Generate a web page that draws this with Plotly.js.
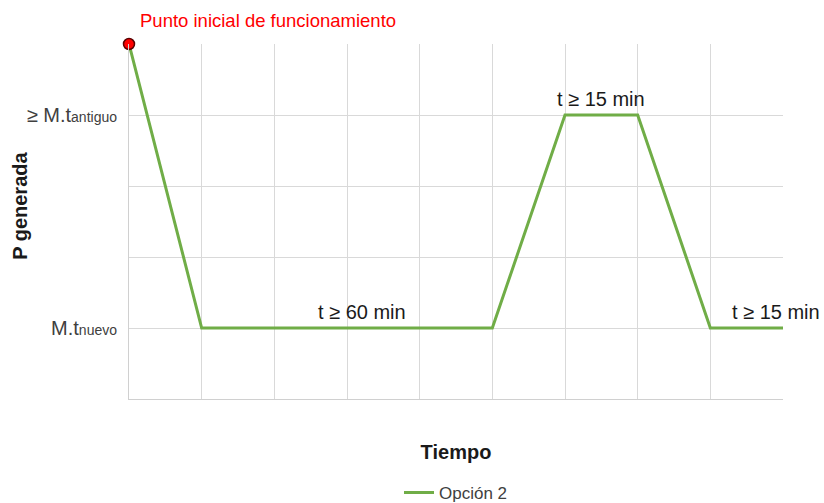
<!DOCTYPE html>
<html><head><meta charset="utf-8">
<script src="https://cdn.plot.ly/plotly-3.0.1.min.js"></script>
<style>body{margin:0;background:#fff}#c{width:824px;height:503px}</style>
</head><body><div id="c"></div>
<script>
const xs = [0, 1, 5, 6, 7, 8, 9];
const ys = [5, 1, 1, 4, 4, 1, 1];
const seriesName = 'Opción 2';
const startX = [0], startY = [5];
const yTickVals = [0, 1, 2, 3, 4, 5];
const yTickText = ['', 'M.t<span style="font-size:14px">nuevo</span>', '', '', '≥ M.t<span style="font-size:14px">antiguo</span>', ''];
const notes = [
  {x: 3.2, y: 1, text: 't ≥ 60 min'},
  {x: 6.5, y: 4, text: 't ≥ 15 min'},
  {x: 8.9, y: 1, text: 't ≥ 15 min'}
];
const font = 'Liberation Sans, Arial, sans-serif';
const data = [
  {x: xs, y: ys, type: 'scatter', mode: 'lines', name: seriesName,
   line: {color: '#70ad47', width: 3}},
  {x: startX, y: startY, type: 'scatter', mode: 'markers', showlegend: false,
   marker: {color: '#ff0000', size: 11, line: {color: '#5a0000', width: 1.5}}, cliponaxis: false}
];
const annotations = notes.map(n => ({x: n.x, y: n.y, xref: 'x', yref: 'y', text: n.text,
  showarrow: false, yanchor: 'bottom', yshift: 3, font: {family: font, size: 20, color: '#1a1a1a'}}));
annotations.push({x: 0.12, y: 1.03, xref: 'x', yref: 'paper', xanchor: 'left', yanchor: 'bottom',
  text: 'Punto inicial de funcionamiento', showarrow: false,
  font: {family: font, size: 18.5, color: '#ff0000'}});
annotations.push({x: -0.1667, y: 0.544, xref: 'paper', yref: 'paper', xanchor: 'center', yanchor: 'middle',
  text: '<b>P generada</b>', textangle: -90, showarrow: false,
  font: {family: font, size: 20, color: '#1a1a1a'}});
const layout = {
  width: 824, height: 503,
  margin: {l: 129, r: 41, t: 44, b: 104},
  paper_bgcolor: '#fff', plot_bgcolor: '#fff',
  font: {family: font},
  xaxis: {range: [0, 9], tickvals: [0,1,2,3,4,5,6,7,8,9], showticklabels: false, ticks: '',
    showgrid: true, gridcolor: '#d9d9d9', gridwidth: 1, zeroline: false,
    showline: true, linecolor: '#d0d0d0', linewidth: 1, automargin: false,
    title: {text: '<b>Tiempo</b>', font: {family: font, size: 20, color: '#1a1a1a'}, standoff: 45}},
  yaxis: {range: [0, 5], tickvals: yTickVals, ticktext: yTickText, ticks: '',
    showgrid: true, gridcolor: '#d9d9d9', gridwidth: 1, zeroline: false,
    showline: true, linecolor: '#d0d0d0', linewidth: 1, automargin: false,
    tickfont: {family: font, size: 20, color: '#404040'}, ticklabelstandoff: 7},
  showlegend: true,
  legend: {orientation: 'h', x: 0.5, xanchor: 'center', yref: 'container', y: 0.02, yanchor: 'middle',
    font: {family: font, size: 17, color: '#404040'}},
  annotations: annotations
};
Plotly.newPlot('c', data, layout, {displayModeBar: false, staticPlot: true});
</script></body></html>
